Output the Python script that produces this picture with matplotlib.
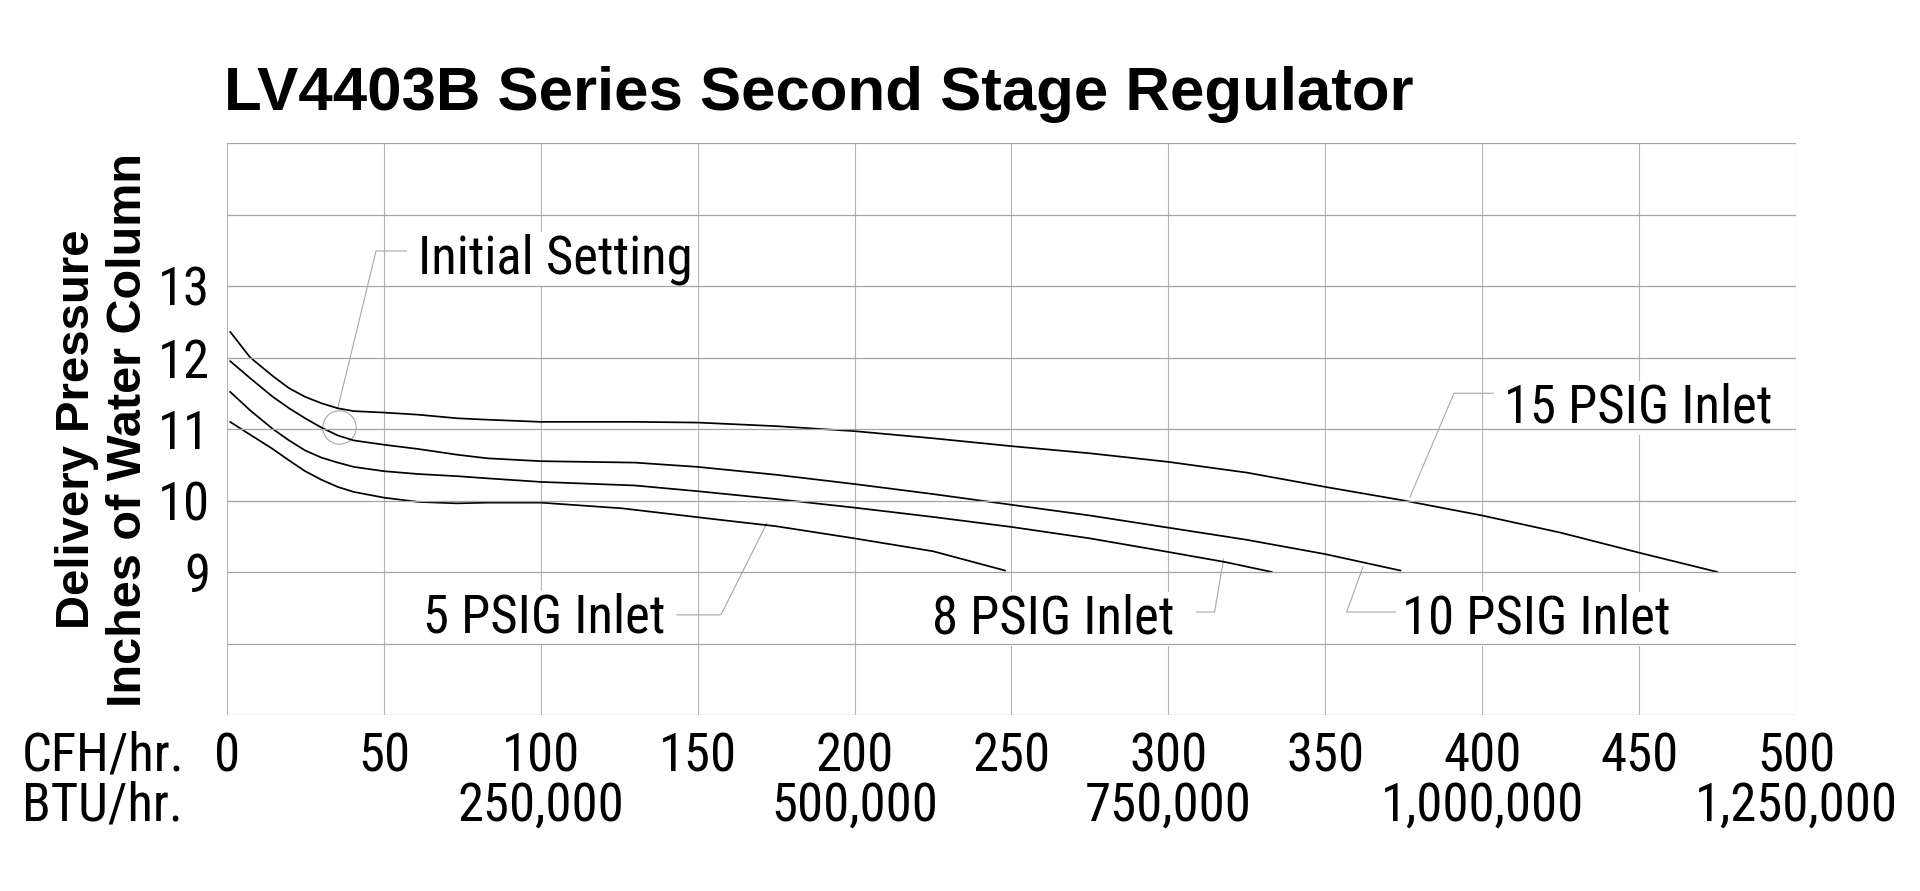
import matplotlib
matplotlib.use("Agg")
import matplotlib.pyplot as plt
import matplotlib.transforms as mtransforms

# ---------------- data ----------------
cfh_5 = [1, 7.4, 14.6, 19.8, 24.9, 30.1, 35.3, 40.4, 50, 61, 73.4, 83, 100, 126, 157, 175, 200, 225, 248]
psi_5 = [11.10, 10.92, 10.72, 10.56, 10.41, 10.29, 10.19, 10.12, 10.04, 9.98, 9.96, 9.97, 9.97,
         9.89, 9.73, 9.64, 9.47, 9.29, 9.02]

cfh_8 = [1, 7.4, 14.6, 19.8, 24.9, 30.1, 35.3, 40.4, 50, 61, 73.4, 83, 100, 130, 150, 175, 200,
         225, 250, 275, 300, 318, 333]
psi_8 = [11.52, 11.26, 11.00, 10.84, 10.70, 10.60, 10.53, 10.47, 10.41, 10.37, 10.34, 10.31, 10.26,
         10.21, 10.13, 10.02, 9.90, 9.77, 9.63, 9.47, 9.28, 9.14, 9.0]

cfh_10 = [1, 7.4, 14.6, 19.8, 24.9, 30.1, 35.3, 40.4, 50, 61, 73.4, 83, 100, 130, 150, 175, 200,
          225, 250, 275, 300, 325, 350, 374]
psi_10 = [11.95, 11.71, 11.45, 11.29, 11.15, 11.02, 10.91, 10.84, 10.78, 10.72, 10.64, 10.59, 10.55,
          10.53, 10.47, 10.36, 10.23, 10.09, 9.94, 9.79, 9.62, 9.45, 9.25, 9.02]

cfh_15 = [1, 7.4, 14.6, 19.8, 24.9, 30.1, 35.3, 40.4, 50, 61, 73.4, 83, 100, 130, 150, 175, 200,
          225, 250, 275, 300, 325, 350, 375, 400, 425, 450, 475]
psi_15 = [12.36, 12.00, 11.74, 11.57, 11.45, 11.36, 11.29, 11.25, 11.23, 11.20, 11.15, 11.13, 11.10,
          11.10, 11.09, 11.04, 10.97, 10.87, 10.76, 10.66, 10.54, 10.39, 10.19, 10.0, 9.79, 9.55,
          9.27, 9.0]

series_labels = ["5 PSIG Inlet", "8 PSIG Inlet", "10 PSIG Inlet", "15 PSIG Inlet"]

cfh_ticks = [0, 50, 100, 150, 200, 250, 300, 350, 400, 450, 500]
btu_positions = [100, 200, 300, 400, 500]
btu_labels = ["250,000", "500,000", "750,000", "1,000,000", "1,250,000"]
y_grid = [7, 8, 9, 10, 11, 12, 13, 14, 15]
y_labeled = [9, 10, 11, 12, 13]

initial_setting_point = (35.8, 11.03)
initial_leader_x = [35.3, 47.5, 57.2]
initial_leader_y = [11.29, 13.49, 13.49]

leader_5_x = [143.4, 157.4, 172.0]
leader_5_y = [8.40, 8.40, 9.68]
leader_8_x = [309.0, 314.7, 317.6]
leader_8_y = [8.44, 8.44, 9.18]
leader_10_x = [372.3, 356.8, 362.0]
leader_10_y = [8.44, 8.44, 9.07]
leader_15_x = [403.5, 391.0, 377.0]
leader_15_y = [11.50, 11.50, 10.05]

# ---------------- fonts ----------------
narrow = ["Roboto Condensed", "Archivo Narrow", "DejaVu Sans"]
bold_font = ["Liberation Sans", "DejaVu Sans"]
FS = 38

fig = plt.figure(figsize=(19.2, 8.91), dpi=100)
ax = fig.add_axes([227 / 1920, 1 - 715 / 891, (1796 - 227) / 1920, (715 - 143) / 891])
ax.set_xlim(0, 500)
ax.set_ylim(7, 15)

# grid (horizontal lines above label boxes, vertical lines below them)
for x in cfh_ticks:
    ax.axvline(x, color="#b4b4b4", lw=0.8, zorder=0)
for y in y_grid:
    ax.axhline(y, color="#a4a4a4", lw=0.9, zorder=4.5)
for s in ax.spines.values():
    s.set_visible(False)

# curves
for xs, ys in [(cfh_5, psi_5), (cfh_8, psi_8), (cfh_10, psi_10), (cfh_15, psi_15)]:
    ax.plot(xs, ys, color="black", lw=1.25, solid_joinstyle="round", solid_capstyle="round", zorder=3)

# ticks
ax.set_xticks(cfh_ticks)
ax.set_xticklabels([str(v) for v in cfh_ticks], fontfamily=narrow, fontsize=FS)
ax.set_yticks(y_labeled)
ax.set_yticklabels([str(v) for v in y_labeled], fontfamily=narrow, fontsize=FS)
ax.tick_params(axis="x", length=0, pad=12)
ax.tick_params(axis="y", length=0, pad=12)

# BTU row
trans = mtransforms.blended_transform_factory(ax.transData, ax.transAxes)
for xp, lab in zip(btu_positions, btu_labels):
    ax.text(xp, -0.185, lab, transform=trans, ha="center", va="baseline",
            fontfamily=narrow, fontsize=FS, clip_on=False)

fig.text(22 / 1920, 1 - 770 / 891, "CFH/hr.", ha="left", va="baseline",
         fontfamily=narrow, fontsize=FS)
fig.text(22 / 1920, 1 - 821 / 891, "BTU/hr.", ha="left", va="baseline",
         fontfamily=narrow, fontsize=FS)

# y labels
fig.text(77 / 1920, 1 - 429 / 891, "Delivery Pressure", rotation=90, ha="center", va="center",
         fontfamily=bold_font, fontweight="bold", fontsize=34)
fig.text(129 / 1920, 1 - 430 / 891, "Inches of Water Column", rotation=90, ha="center", va="center",
         fontfamily=bold_font, fontweight="bold", fontsize=35)

# title
fig.text(224 / 1920, 1 - 110 / 891, "LV4403B Series Second Stage Regulator", ha="left",
         va="baseline", fontfamily=bold_font, fontweight="bold", fontsize=44.5)

# annotations
lead_kw = dict(color="#a8a8a8", lw=0.8, zorder=2)
box = dict(facecolor="white", edgecolor="none", pad=1)

ax.plot([initial_setting_point[0]], [initial_setting_point[1]], marker="o", ms=24,
        mfc="none", mec="#a8a8a8", mew=0.8, zorder=2)
ax.plot(initial_leader_x, initial_leader_y, **lead_kw)
ax.text(60.9, 13.18, "Initial Setting", ha="left", va="baseline", fontfamily=narrow,
        fontsize=FS, bbox=box, zorder=4)

ax.plot(leader_5_x, leader_5_y, **lead_kw)
ax.text(139.6, 8.15, series_labels[0], ha="right", va="baseline", fontfamily=narrow,
        fontsize=FS, bbox=box, zorder=4)
ax.plot(leader_8_x, leader_8_y, **lead_kw)
ax.text(302.0, 8.14, series_labels[1], ha="right", va="baseline", fontfamily=narrow,
        fontsize=FS, bbox=box, zorder=4)
ax.plot(leader_10_x, leader_10_y, **lead_kw)
ax.text(374.3, 8.14, series_labels[2], ha="left", va="baseline", fontfamily=narrow,
        fontsize=FS, bbox=box, zorder=4)
ax.plot(leader_15_x, leader_15_y, **lead_kw)
ax.text(407.1, 11.09, series_labels[3], ha="left", va="baseline", fontfamily=narrow,
        fontsize=FS, bbox=box, zorder=4)

fig.savefig("out.png", dpi=100, facecolor="white")
